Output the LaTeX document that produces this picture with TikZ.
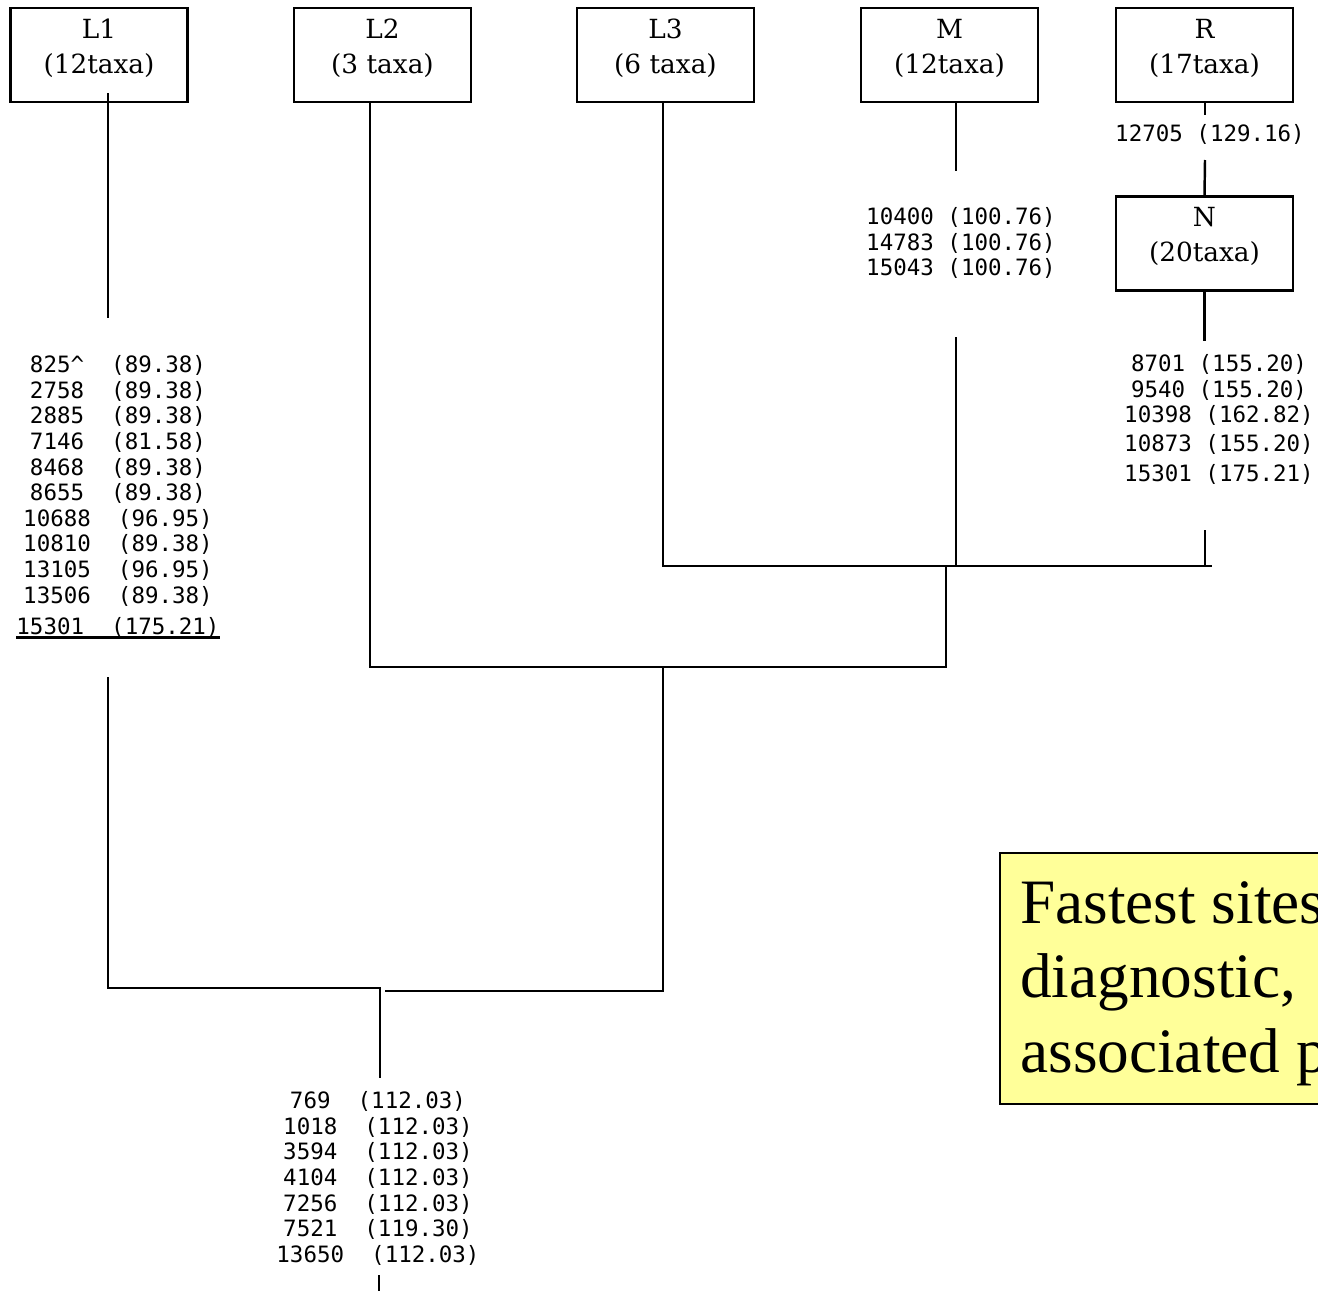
\documentclass[tikz,border=0pt]{standalone}
\usepackage{fontspec}
\setmainfont{Liberation Serif}
\setmonofont{DejaVu Sans Mono}
\newfontfamily\cladefont{DejaVu Serif}
\definecolor{notebg}{HTML}{FFFF99}
\newcommand{\cladebox}[2]{\raisebox{3.5pt}[\height][\depth]{\begin{tabular}{@{}c@{}}#1\\(#2)\end{tabular}}}
\begin{document}
\begin{tikzpicture}[x=0.02cm,y=-0.02cm,
        clade/.style={draw,line width=1.4pt,minimum width=3.54cm,minimum height=1.88cm,inner sep=0pt,font=\cladefont\fontsize{15}{19.8}\selectfont},
        sites/.style={align=center,inner sep=0pt,font=\ttfamily\fontsize{12.8}{14.6}\selectfont},
        branch/.style={line width=1.4pt}]
        \useasboundingbox (0,0) rectangle (1318,1291);
        \clip (0,0) rectangle (1318,1291);
        % clades
        \node[clade] (L1) at (99,55) {\cladebox{L1}{12taxa}};
        \node[clade] (L2) at (382.5,55) {\cladebox{L2}{3 taxa}};
        \node[clade] (L3) at (665.5,55) {\cladebox{L3}{6 taxa}};
        \node[clade] (M) at (949.5,55) {\cladebox{M}{12taxa}};
        \node[clade] (R) at (1204.5,55) {\cladebox{R}{17taxa}};
        \node[clade] (N) at (1204.5,243.5) {\cladebox{N}{20taxa}};
        % sites on the branches
        \node[sites,anchor=north] (sL1) at (118,355) {825\textasciicircum~ (89.38)\\2758~ (89.38)\\2885~ (89.38)\\7146~ (81.58)\\8468~ (89.38)\\8655~ (89.38)\\10688~ (96.95)\\10810~ (89.38)\\13105~ (96.95)\\13506~ (89.38)\\[3pt]15301~ (175.21)};
        \node[sites,anchor=north] (sM) at (961,207) {10400 (100.76)\\14783 (100.76)\\15043 (100.76)};
        \node[sites] (sR) at (1210,134) {12705 (129.16)};
        \node[sites,anchor=north] (sN) at (1219,354) {8701 (155.20)\\9540 (155.20)\\10398 (162.82)\\[1.5pt]10873 (155.20)\\[2.5pt]15301 (175.21)};
        \node[sites,anchor=north] (sRoot) at (378,1091) {769~ (112.03)\\1018~ (112.03)\\3594~ (112.03)\\4104~ (112.03)\\7256~ (112.03)\\7521~ (119.30)\\13650~ (112.03)};
        \draw[branch] (sL1.south west) -- (sL1.south east);
        % branches
        \draw[branch] (L1.south) ++(9,-10) -- (108,318);
        \draw[branch] (108,677) |- (380,988) -- (380,1078);
        \draw[branch] (385,991) -- (663,991) -- (663,667);
        \draw[branch] (L2.south) ++(-12.5,0) |- (946,667) -- (946,566);
        \draw[branch] (L3.south) ++(-2.5,0) |- (1212,566);
        \draw[branch] (M.south) ++(6.5,0) -- ++(0,68);
        \draw[branch] (956,337) -- (956,566);
        \draw[branch] (R.south) ++(0.5,0) -- ++(0,12);
        \draw[branch] (1205,160) -- (N.north);
        \draw[branch] (N.south) -- ++(0,49);
        \draw[branch] (1205,530) -- (1205,566);
        \draw[branch] (379,1275) -- (379,1291);
        % note
        \node[draw,line width=1pt,fill=notebg,anchor=north west,minimum width=6.82cm,minimum height=5.02cm] (note) at (999,852) {};
        \node[anchor=north west,align=left,inner sep=0pt,font=\fontsize{36}{42.5}\selectfont] (noteText) at (1020,881) {Fastest sites\\diagnostic,\\associated p};
\end{tikzpicture}
\end{document}
